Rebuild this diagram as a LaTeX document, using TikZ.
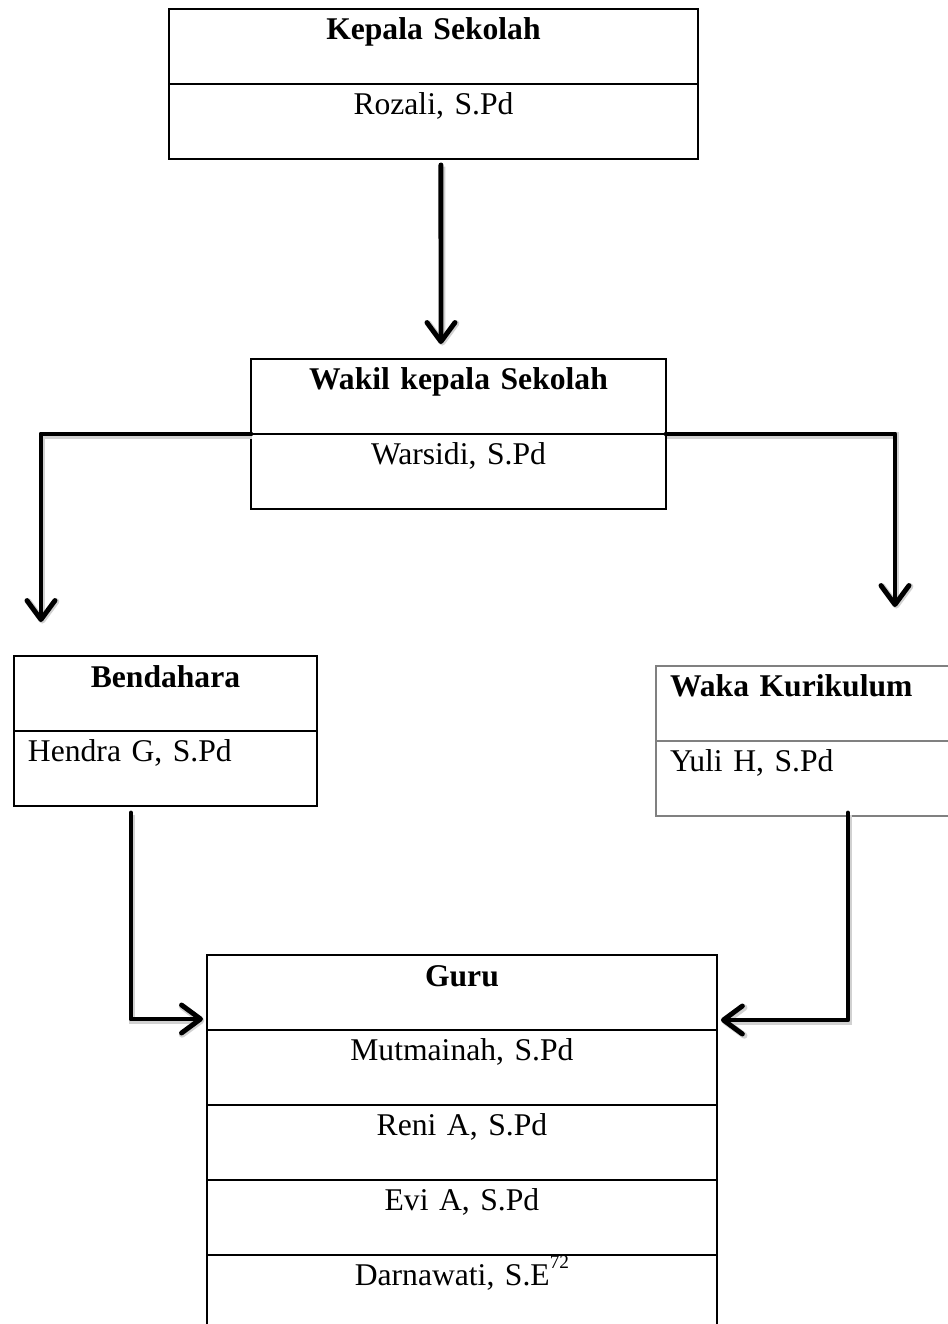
\documentclass[tikz,border=0pt]{standalone}
\usepackage{fontspec}
\setmainfont{Liberation Serif}
\usepackage{tikz}
\usetikzlibrary{
	arrows.meta,
	positioning,
	calc
}

\begin{document}
\begin{tikzpicture}[x=0.02cm, y=-0.02cm,
				part/.style={
					rectangle, draw, line width=1.1pt, outer sep=0pt,
					inner xsep=0.28cm, inner ysep=0pt,
					text height=0.62cm, text depth=0.88cm,
					font=\fontsize{18}{21}\selectfont
				},
				head/.style={
					part, align=center, font=\fontsize{18}{21}\selectfont\bfseries
				},
				body/.style={
					part, align=center
				},
				graypart/.style={
					draw=black!50, line width=0.8pt, align=left
				},
				arrow/.style={
					-{Straight Barb[length=0.38cm, width=0.56cm, round]},
					line width=2.8pt, line cap=round, line join=round,
					preaction={draw=black!18, line width=3.6pt,
						transform canvas={shift={(0.7pt,-0.9pt)}}}
				},
				]
				\useasboundingbox (0,0) rectangle (947,1324);
				
				%first set
				\node[head, anchor=north west, text width=10.02cm] (kepala) at (169,9) {Kepala Sekolah};
				\node[body, below=0cm of kepala, text width=10.02cm] (rozali) {Rozali, S.Pd};
				
				%2. set
				\node[head, anchor=north west, text width=7.74cm] (wakil) at (251,359) {Wakil kepala Sekolah};
				\node[body, below=0cm of wakil, text width=7.74cm] (warsidi) {Warsidi, S.Pd};
				\draw[arrow] ($(rozali.south)+(7.5,6)$) -- ($(wakil.north)+(-17.5,-15)$);
				
				%3. set
				\node[head, anchor=north west, text width=5.5cm] (bendahara) at (14,656) {Bendahara};
				\node[body, below=0cm of bendahara, text width=5.5cm, align=left] (hendra) {Hendra G, S.Pd};
				\draw[arrow] (warsidi.north west) -| ($(bendahara.north)+(-124.5,-34)$);
				
				\node[head, graypart, anchor=north west, text width=6.12cm] (waka) at (656,666) {Waka Kurikulum};
				\node[body, graypart, below=0cm of waka, text width=6.12cm] (yuli) {Yuli H, S.Pd};
				\draw[arrow] (warsidi.north east) -| ($(waka.north)+(72,-59)$);
				
				%4. set
				\node[head, anchor=north west, text width=9.64cm] (guru) at (207,955) {Guru};
				\node[body, below=0cm of guru, text width=9.64cm] (mutmainah) {Mutmainah, S.Pd};
				\node[body, below=0cm of mutmainah, text width=9.64cm] (reni) {Reni A, S.Pd};
				\node[body, below=0cm of reni, text width=9.64cm] (evi) {Evi A, S.Pd};
				\node[body, below=0cm of evi, text width=9.64cm] (darnawati) {Darnawati, S.E\raisebox{0.55em}{\fontsize{11}{11}\selectfont 72}};
				\draw[arrow] ($(hendra.south)+(-34.5,7)$) |- ($(guru.south west)+(-4,-11)$);
				\draw[arrow] ($(yuli.south)+(25,-3)$) |- ($(guru.south east)+(4,-10)$);
			\end{tikzpicture}
\end{document}
